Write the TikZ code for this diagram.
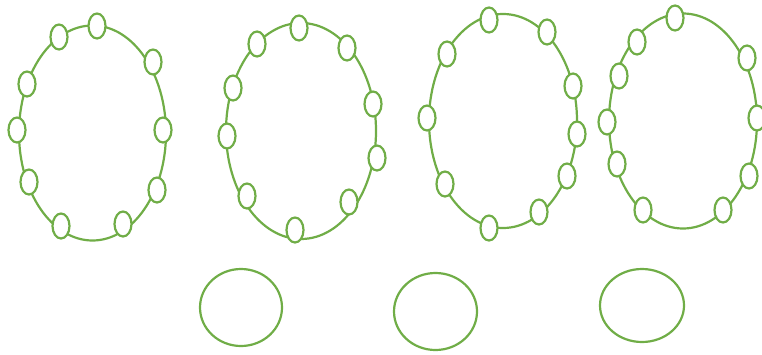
\documentclass[tikz,border=0pt]{standalone}
\usepackage{tikz}
\usetikzlibrary{shapes.geometric,positioning}
\definecolor{leaf}{HTML}{70AD47}

\begin{document}
\begin{tikzpicture}[x=0.2mm,y=-0.2mm,
  ring/.style={draw=leaf,line width=0.44mm,ellipse,inner sep=0pt},
  bead/.style={ring,fill=white,minimum width=3.4mm,minimum height=5mm}]
\useasboundingbox (0,0) rectangle (762,354);

% the four rings
\node[ring,minimum width=29.4mm,minimum height=43mm] (R1) at (92.5,133) {};
\node[ring,minimum width=30mm,minimum height=43.2mm] (R2) at (301,131) {};
\node[ring,minimum width=29.6mm,minimum height=42.8mm] (R3) at (503,121) {};
\node[ring,minimum width=29.6mm,minimum height=43mm] (R4) at (683,121) {};

% beads of ring 1
\node[bead] (A1) at (97,26) {};
\node[bead] (A2) at (153,62) {};
\node[bead] (A3) at (163,130) {};
\node[bead] (A4) at (157,190) {};
\node[bead] (A5) at (123,224) {};
\node[bead] (A6) at (61,226) {};
\node[bead] (A7) at (29,182) {};
\node[bead] (A8) at (17,130) {};
\node[bead] (A9) at (27,84) {};
\node[bead] (A10) at (59,37) {};

% beads of ring 2
\node[bead] (B1) at (299,28) {};
\node[bead] (B2) at (347,48) {};
\node[bead] (B3) at (373,104) {};
\node[bead] (B4) at (377,158) {};
\node[bead] (B5) at (349,202) {};
\node[bead] (B6) at (295,230) {};
\node[bead] (B7) at (247,196) {};
\node[bead] (B8) at (227,136) {};
\node[bead] (B9) at (233,88) {};
\node[bead] (B10) at (257,44) {};

% beads of ring 3
\node[bead] (C1) at (489,20) {};
\node[bead] (C2) at (547,32) {};
\node[bead] (C3) at (573,86) {};
\node[bead] (C4) at (577,134) {};
\node[bead] (C5) at (567,176) {};
\node[bead] (C6) at (539,212) {};
\node[bead] (C7) at (489,228) {};
\node[bead] (C8) at (445,184) {};
\node[bead] (C9) at (427,118) {};
\node[bead] (C10) at (447,54) {};

% beads of ring 4
\node[bead] (D1) at (675,18) {};
\node[bead] (D2) at (747,58) {};
\node[bead] (D3) at (757,118) {};
\node[bead] (D4) at (749,176) {};
\node[bead] (D5) at (723,210) {};
\node[bead] (D6) at (643,210) {};
\node[bead] (D7) at (617,164) {};
\node[bead] (D8) at (607,122) {};
\node[bead] (D9) at (619,76) {};
\node[bead] (D10) at (637,42) {};

% loose cells below
\node[ring,minimum width=16.4mm,minimum height=15.4mm] (P1) at (241,307.5) {};
\node[ring,minimum width=16.6mm,minimum height=15.4mm] (P2) at (435.5,311.5) {};
\node[ring,minimum width=16.8mm,minimum height=14.6mm] (P3) at (642,305.5) {};
\end{tikzpicture}
\end{document}
